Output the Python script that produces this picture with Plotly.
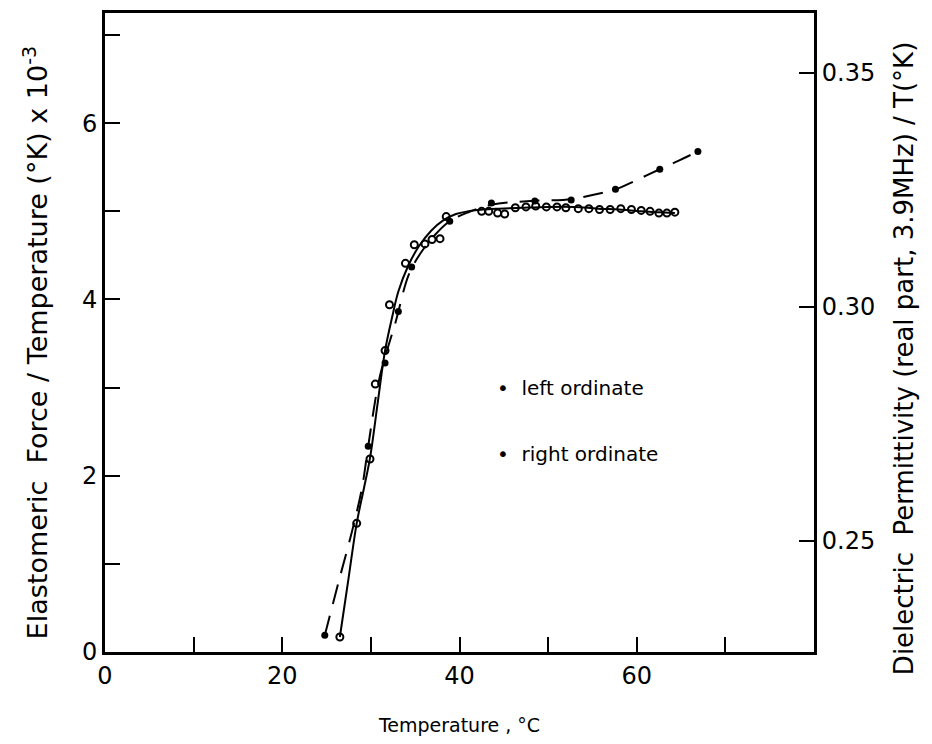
import plotly.graph_objects as go

# Left ordinate: elastomeric force / T (x 10^-3), open circles
left_T = [26.5, 28.4, 29.9, 30.5, 31.6, 32.1, 33.9, 34.9, 36.1, 36.9, 37.8, 38.5,
          42.5, 43.3, 44.3, 45.1, 46.3, 47.5, 48.6, 49.8, 51.0, 52.0,
          53.4, 54.6, 55.8, 57.0, 58.2, 59.4, 60.5, 61.5, 62.5, 63.4, 64.3]
left_F = [0.17, 1.46, 2.19, 3.04, 3.42, 3.94, 4.41, 4.62, 4.63, 4.68, 4.69, 4.94,
          5.00, 5.00, 4.98, 4.97, 5.04, 5.05, 5.06, 5.05, 5.05, 5.04,
          5.03, 5.03, 5.02, 5.02, 5.03, 5.02, 5.01, 5.00, 4.98, 4.98, 4.99]

# Smooth curve drawn through the left-ordinate data
fitL_T = [26.5, 27.5, 28.4, 29.2, 29.9, 30.8, 31.6, 32.4, 33.1, 34.2, 35.4, 36.8, 38.2, 39.6, 41.0, 42.7, 44.4, 47.0, 50.0, 53.0, 55.6, 58.0, 60.5, 62.5, 64.3]
fitL_F = [0.17, 0.85, 1.46, 1.85, 2.20, 2.85, 3.42, 3.80, 4.09, 4.38, 4.60, 4.78, 4.90, 4.97, 5.00, 5.02, 5.03, 5.04, 5.05, 5.05, 5.03, 5.02, 5.00, 4.99, 4.98]

# Right ordinate: dielectric permittivity / T, filled dots
right_T = [24.8, 29.7, 31.6, 33.1, 34.6, 38.9, 43.6, 48.5, 52.6, 57.6, 62.6, 66.9]
right_P = [0.2298, 0.2702, 0.2880, 0.2990, 0.3085, 0.3183, 0.3222, 0.3226, 0.3228, 0.3251, 0.3294, 0.3332]

# Dashed curve drawn through the right-ordinate data
fitR_T = [24.8, 26.5, 27.9, 29.0, 29.7, 31.0, 32.8, 34.3, 35.7, 37.3, 38.9, 41.0, 43.6, 48.0, 52.6, 55.0, 57.6, 60.0, 62.6, 64.8, 66.9]
fitR_P = [0.2298, 0.2422, 0.2522, 0.2613, 0.2702, 0.2850, 0.2968, 0.3070, 0.3117, 0.3155, 0.3183, 0.3202, 0.3218, 0.3226, 0.3230, 0.3239, 0.3251, 0.3271, 0.3294, 0.3313, 0.3332]

x_ticks = [0, 10, 20, 30, 40, 50, 60, 70]
x_labels = ["0", "", "20", "", "40", "", "60", ""]
yl_ticks = [0, 1, 2, 3, 4, 5, 6, 7]
yl_labels = ["0", "", "2", "", "4", "", "6", ""]
yr_ticks = [0.25, 0.30, 0.35]
yr_labels = ["0.25", "0.30", "0.35"]

FONT = "DejaVu Sans"
fig = go.Figure()

fig.add_trace(go.Scatter(x=fitL_T, y=fitL_F, mode="lines", line=dict(color="black", width=2, shape="spline"),
                         showlegend=False, hoverinfo="skip"))
fig.add_trace(go.Scatter(x=left_T, y=left_F, mode="markers",
                         marker=dict(symbol="circle-open", size=7, color="black", line=dict(width=2)),
                         showlegend=False))
fig.add_trace(go.Scatter(x=fitR_T, y=fitR_P, mode="lines", yaxis="y2",
                         line=dict(color="black", width=2, dash="20px,12px", shape="spline"),
                         showlegend=False, hoverinfo="skip"))
fig.add_trace(go.Scatter(x=right_T, y=right_P, mode="markers", yaxis="y2",
                         marker=dict(symbol="circle", size=7, color="black"),
                         showlegend=False))

fig.add_annotation(x=44.0, y=3.0, xref="x", yref="y", text="•  left ordinate", showarrow=False,
                   xanchor="left", yanchor="middle", font=dict(family=FONT, size=20, color="black"))
fig.add_annotation(x=44.0, y=2.25, xref="x", yref="y", text="•  right ordinate", showarrow=False,
                   xanchor="left", yanchor="middle", font=dict(family=FONT, size=20, color="black"))

# Axis titles as rotated text placed like the reference
fig.add_annotation(x=-0.0987, y=0.483, xref="paper", yref="paper", textangle=-90, showarrow=False,
                   text="Elastomeric  Force / Temperature (°K) x 10<sup>-3</sup>",
                   xanchor="center", yanchor="middle", font=dict(family=FONT, size=27, color="black"))
fig.add_annotation(x=1.128, y=0.4595, xref="paper", yref="paper", textangle=-90, showarrow=False,
                   text="Dielectric  Permittivity (real part, 3.9MHz) / T(°K)",
                   xanchor="center", yanchor="middle", font=dict(family=FONT, size=26, color="black"))

fig.update_layout(
    width=932, height=744,
    margin=dict(l=105, r=118, t=10, b=92),
    paper_bgcolor="white", plot_bgcolor="white",
    font=dict(family=FONT, color="black"),
    xaxis=dict(range=[0, 80], tickvals=x_ticks, ticktext=x_labels, ticks="inside", ticklen=15,
               tickwidth=2, tickcolor="black", showline=True, linewidth=3, linecolor="black",
               mirror=True, showgrid=False, zeroline=False, tickfont=dict(size=24),
               title=dict(text="Temperature , °C", font=dict(size=19), standoff=30)),
    yaxis=dict(range=[0, 7.25], tickvals=yl_ticks, ticktext=yl_labels, ticks="inside", ticklen=15,
               tickwidth=2, tickcolor="black", showline=True, linewidth=3, linecolor="black",
               showgrid=False, zeroline=False, tickfont=dict(size=24)),
    yaxis2=dict(range=[0.2262, 0.3628], overlaying="y", side="right", tickvals=yr_ticks,
                ticktext=yr_labels, ticks="inside", ticklen=15, tickwidth=2, tickcolor="black",
                showline=True, linewidth=3, linecolor="black", showgrid=False, zeroline=False,
                tickfont=dict(size=24)),
)

fig.write_html("out.html")
